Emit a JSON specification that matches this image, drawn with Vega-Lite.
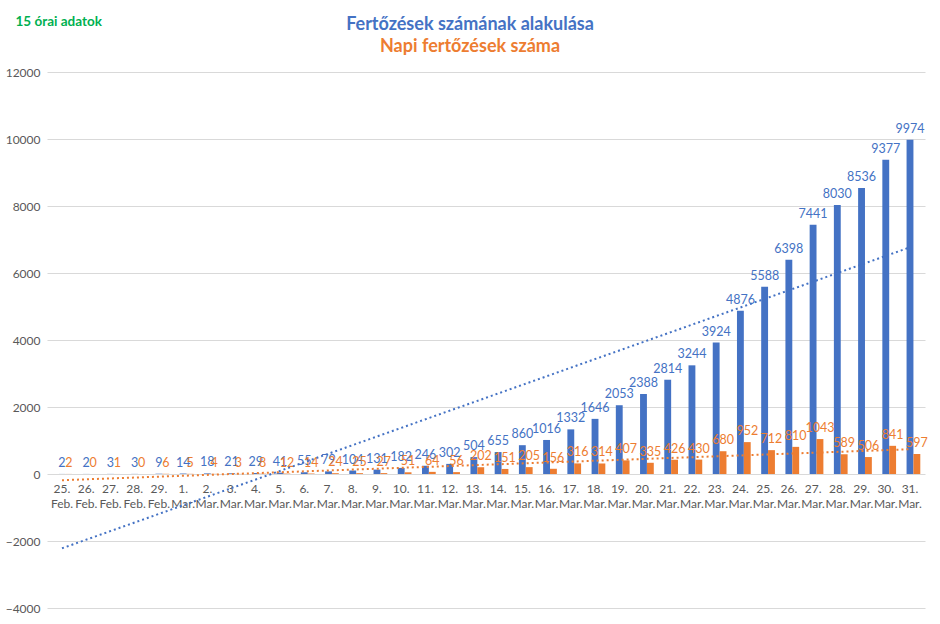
{
  "$schema": "https://vega.github.io/schema/vega-lite/v6.json",
  "autosize": "none",
  "width": 878,
  "height": 536,
  "padding": {"left": 47, "top": 72, "right": 15, "bottom": 16},
  "background": "white",
  "config": {
    "font": "Lato",
    "view": {"stroke": null},
    "axis": {"labelFont": "Lato", "labelColor": "#595959", "labelFontSize": 12}
  },
  "title": {
    "text": "Fertőzések számának alakulása",
    "subtitle": "Napi fertőzések száma",
    "anchor": "middle",
    "dx": -16,
    "offset": -42,
    "color": "#4472C4",
    "fontSize": 18,
    "fontWeight": "bold",
    "font": "Lato",
    "subtitleColor": "#ED7D31",
    "subtitleFontSize": 18,
    "subtitleFontWeight": "bold",
    "subtitleFont": "Lato",
    "subtitlePadding": 4
  },
  "datasets": {
    "covid": [
      {"i": 0, "d": "25. Feb.", "total": 2, "daily": 2},
      {"i": 1, "d": "26. Feb.", "total": 2, "daily": 0},
      {"i": 2, "d": "27. Feb.", "total": 3, "daily": 1},
      {"i": 3, "d": "28. Feb.", "total": 3, "daily": 0},
      {"i": 4, "d": "29. Feb.", "total": 9, "daily": 6},
      {"i": 5, "d": "1. Mar.", "total": 14, "daily": 5},
      {"i": 6, "d": "2. Mar.", "total": 18, "daily": 4},
      {"i": 7, "d": "3. Mar.", "total": 21, "daily": 3},
      {"i": 8, "d": "4. Mar.", "total": 29, "daily": 8},
      {"i": 9, "d": "5. Mar.", "total": 41, "daily": 12},
      {"i": 10, "d": "6. Mar.", "total": 55, "daily": 14},
      {"i": 11, "d": "7. Mar.", "total": 79, "daily": 24},
      {"i": 12, "d": "8. Mar.", "total": 104, "daily": 25},
      {"i": 13, "d": "9. Mar.", "total": 131, "daily": 27},
      {"i": 14, "d": "10. Mar.", "total": 182, "daily": 51},
      {"i": 15, "d": "11. Mar.", "total": 246, "daily": 64},
      {"i": 16, "d": "12. Mar.", "total": 302, "daily": 56},
      {"i": 17, "d": "13. Mar.", "total": 504, "daily": 202},
      {"i": 18, "d": "14. Mar.", "total": 655, "daily": 151},
      {"i": 19, "d": "15. Mar.", "total": 860, "daily": 205},
      {"i": 20, "d": "16. Mar.", "total": 1016, "daily": 156},
      {"i": 21, "d": "17. Mar.", "total": 1332, "daily": 316},
      {"i": 22, "d": "18. Mar.", "total": 1646, "daily": 314},
      {"i": 23, "d": "19. Mar.", "total": 2053, "daily": 407},
      {"i": 24, "d": "20. Mar.", "total": 2388, "daily": 335},
      {"i": 25, "d": "21. Mar.", "total": 2814, "daily": 426},
      {"i": 26, "d": "22. Mar.", "total": 3244, "daily": 430},
      {"i": 27, "d": "23. Mar.", "total": 3924, "daily": 680},
      {"i": 28, "d": "24. Mar.", "total": 4876, "daily": 952},
      {"i": 29, "d": "25. Mar.", "total": 5588, "daily": 712},
      {"i": 30, "d": "26. Mar.", "total": 6398, "daily": 810},
      {"i": 31, "d": "27. Mar.", "total": 7441, "daily": 1043},
      {"i": 32, "d": "28. Mar.", "total": 8030, "daily": 589},
      {"i": 33, "d": "29. Mar.", "total": 8536, "daily": 506},
      {"i": 34, "d": "30. Mar.", "total": 9377, "daily": 841},
      {"i": 35, "d": "31. Mar.", "total": 9974, "daily": 597}
    ]
  },
  "data": {"name": "covid"},
  "encoding": {
    "x": {
      "field": "d",
      "type": "nominal",
      "sort": null,
      "scale": {"paddingInner": 0.15, "paddingOuter": 0.194},
      "axis": {
        "title": null,
        "offset": -134,
        "domain": false,
        "ticks": false,
        "grid": false,
        "labelAngle": 0,
        "labelPadding": 9,
        "labelLineHeight": 15,
        "labelExpr": "split(datum.value, ' ')"
      }
    },
    "y": {
      "type": "quantitative",
      "scale": {"domain": [-4000, 12000], "nice": false},
      "axis": {
        "values": [-4000, -2000, 0, 2000, 4000, 6000, 8000, 10000, 12000],
        "format": "d",
        "domain": false,
        "ticks": false,
        "labelPadding": 7,
        "gridColor": "#D9D9D9",
        "title": "15 órai adatok",
        "titleAngle": 0,
        "titleX": -32,
        "titleY": -47,
        "titleAlign": "left",
        "titleBaseline": "alphabetic",
        "titleColor": "#00B050",
        "titleFont": "Lato",
        "titleFontSize": 13.5,
        "titleFontWeight": "bold"
      }
    }
  },
  "layer": [
    {
      "transform": [
        {"fold": ["total", "daily"], "as": ["series", "value"]}
      ],
      "mark": {"type": "bar"},
      "encoding": {
        "y": {"field": "value", "type": "quantitative"},
        "xOffset": {
          "field": "series",
          "type": "nominal",
          "scale": {"domain": ["none", "total", "daily"], "paddingInner": 0, "paddingOuter": 0}
        },
        "color": {
          "field": "series",
          "type": "nominal",
          "scale": {"domain": ["total", "daily"], "range": ["#4472C4", "#ED7D31"]},
          "legend": null
        }
      }
    },
    {
      "transform": [
        {"fold": ["total", "daily"], "as": ["series", "value"]}
      ],
      "mark": {"type": "text", "baseline": "bottom", "dy": -4, "fontSize": 12.5, "font": "Lato"},
      "encoding": {
        "y": {"field": "value", "type": "quantitative"},
        "xOffset": {"field": "series", "type": "nominal"},
        "text": {"field": "value", "type": "quantitative", "format": "d"},
        "color": {"field": "series", "type": "nominal"}
      }
    },
    {
      "transform": [
        {"regression": "total", "on": "i", "extent": [0, 35]},
        {"lookup": "i", "from": {"data": {"name": "covid"}, "key": "i", "fields": ["d"]}}
      ],
      "mark": {"type": "line", "color": "#4472C4", "strokeWidth": 2, "strokeDash": [2, 3]},
      "encoding": {
        "y": {"field": "total", "type": "quantitative"}
      }
    },
    {
      "transform": [
        {"regression": "daily", "on": "i", "extent": [0, 35]},
        {"lookup": "i", "from": {"data": {"name": "covid"}, "key": "i", "fields": ["d"]}}
      ],
      "mark": {"type": "line", "color": "#ED7D31", "strokeWidth": 2, "strokeDash": [2, 3]},
      "encoding": {
        "y": {"field": "daily", "type": "quantitative"}
      }
    }
  ]
}
